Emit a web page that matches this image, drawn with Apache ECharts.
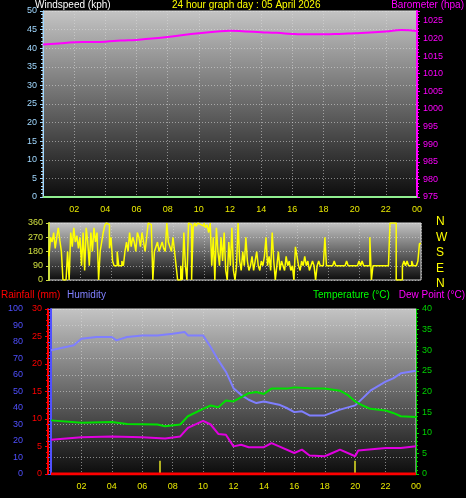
<!DOCTYPE html>
<html><head><meta charset="utf-8">
<script src="https://cdn.jsdelivr.net/npm/echarts@6/dist/echarts.min.js"></script>
<style>html,body{margin:0;background:#000}#c{width:466px;height:498px}</style>
</head><body><div id="c"></div>
<script>
const titleText = "24 hour graph day : 05 April 2026";
const windSpeedTimes = [0, 24];
const windSpeed = [0, 0];
const baroTimes = [0, 1, 2, 3, 4, 5, 6, 7, 8, 9, 10, 11, 12, 13, 14, 15, 16, 16.5, 17, 18, 19, 20, 21, 22, 23, 24];
const baro = [1018.3, 1018.6, 1018.9, 1019.0, 1019.1, 1019.4, 1019.6, 1020.0, 1020.4, 1021.0, 1021.5, 1021.9, 1022.2, 1022.0, 1021.8, 1021.6, 1021.3, 1021.2, 1021.2, 1021.2, 1021.3, 1021.5, 1021.7, 1022.0, 1022.4, 1022.1];
const dirStep = 0.1;
const windDir = [
150,270,240,300,200,270,330,250,180,0,
0,0,180,0,300,210,330,240,280,200,
270,90,300,60,330,240,90,300,180,330,
240,300,0,180,240,300,345,360,350,200,
270,120,90,90,180,90,90,120,90,180,
240,180,300,210,270,240,180,300,270,210,
300,240,180,270,360,350,360,0,180,210,
240,180,210,240,200,180,360,240,210,180,
270,180,90,0,0,90,0,300,90,0,
360,350,0,330,360,340,360,350,360,340,
360,330,350,300,360,90,270,0,330,180,
90,270,120,300,60,0,240,90,330,60,
0,90,360,120,60,180,90,270,120,60,
90,150,60,120,180,90,60,120,90,150,
270,90,150,60,300,120,0,90,180,60,
120,90,60,150,90,120,60,90,0,210,
150,90,60,120,90,150,90,120,60,90,
120,90,0,90,120,90,90,90,270,90,
90,90,90,90,120,90,90,90,90,90,
90,90,120,90,90,90,90,90,90,90,
120,90,120,90,90,90,90,270,0,90,
90,90,90,90,90,90,90,90,90,90,
360,360,360,360,0,0,0,0,90,120,
90,120,90,90,120,90,90,90,120,230,
230];
const humTimes = [0,1.5,2,3,4,4.3,5,6,7,8,8.8,9,10,10.5,11,11.5,12,12.5,13,13.5,14,15,15.5,16,16.5,17,18,19,20,20.5,21,22,22.5,23,24];
const humidity = [75,78,82,83,83,81,83,84,84,85,86,84,84,77,69,62,52,48,45,43,44,42,40,37.5,38,35.5,35.5,39,41.6,46,50.5,56,58,61,62.6];
const tempTimes = [0,2,4,5,7,7.5,8.5,9,10,10.5,11,11.5,12,13,13.5,14,14.5,15.5,16,17,18,19,19.5,20,20.5,21,22,22.5,23,24];
const temperature = [13,12.4,12.6,12.1,12,11.6,12,14,15.8,16.6,16.2,17.8,17.6,19.6,19.9,19.4,20.7,20.7,21,20.8,20.7,20.2,19.2,17.6,16.6,15.8,15.4,14.8,14,13.8];
const dewTimes = [0,2,4,6,7.5,8.5,9,10,10.5,11,11.5,12,12.5,13,14,14.5,15,16,16.5,17,18,18.5,19,20,20.2,22,23,24];
const dewPoint = [8.3,8.9,9.1,8.9,8.6,9.1,11.2,12.9,12,9.7,9.5,6.7,7.1,6.5,6.5,7.5,6.7,5.1,5.9,4.5,4.3,5.1,5.9,4.3,5.7,6.3,6.3,6.7];
const rainTimes = [0, 24];
const rainfall = [0, 0];
const eventTimes = [7.15, 20.0];
const eventHeight = 2.4;
const dirLabels = ["N","W","S","E","N"];

const pairs = (t, v) => t.map((x, i) => [x, v[i]]);
const dirData = windDir.map((v, i) => [+(i * dirStep).toFixed(2), v]);
const F = 'Liberation Sans, Arial, sans-serif';
const bg = {type:'linear',x:0,y:0,x2:0,y2:1,colorStops:[{offset:0,color:'#c4c4c4'},{offset:1,color:'#0c0c0c'}]};
const gridCommon = {show:true, backgroundColor:bg, borderColor:'#d8d8d8', borderWidth:1};
const split = {show:true, lineStyle:{color:'rgba(220,220,220,0.55)', type:[1,2], width:1}};
function xAx(idx, showLabels){
  return {type:'value', gridIndex:idx, min:0, max:24, interval:2,
    axisLine:{show:false}, axisTick:{show:false}, splitLine:split,
    axisLabel:{show:showLabels, color:'#e8e800', fontSize:9, fontFamily:F, showMinLabel:false,
      formatter:v=>String(v%24).padStart(2,'0')}};
}
function yAx(idx, o){
  return Object.assign({type:'value', gridIndex:idx, splitLine:{show:false},
    axisLine:{show:true, lineStyle:{color:o.color, width:o.lw||1}},
    axisTick:{show:true, length:3, lineStyle:{color:o.color}},
    minorTick:{show:true, splitNumber:5, length:2, lineStyle:{color:o.color}},
    axisLabel:{color:o.color, fontSize:9, fontFamily:F, margin:o.margin||6, formatter:o.fmt}}, o.extra||{});
}
const ts = c => ({color:c, fontSize:10, fontWeight:'normal', fontFamily:F});
const chart = echarts.init(document.getElementById('c'));
chart.setOption({
  backgroundColor:'#000', animation:false,
  title:[
    {text:'Windspeed (kph)', left:35, top:0, padding:0, textStyle:ts('#fff')},
    {text:titleText, left:172, top:0, padding:0, textStyle:ts('#ffff00')},
    {text:'Barometer (hpa)', right:2, top:0, padding:0, textStyle:ts('#ff00ff')},
    {text:'Rainfall (mm)', left:1, top:290, padding:0, textStyle:ts('#ff0000')},
    {text:'Humidity', left:67, top:290, padding:0, textStyle:ts('#8080ff')},
    {text:'Temperature (°C)', left:313, top:290, padding:0, textStyle:ts('#00ff00')},
    {text:'Dew Point (°C)', right:1, top:290, padding:0, textStyle:ts('#ff00ff')}
  ].concat(dirLabels.map((s,i)=>({text:s, left:436, top:216+i*15.5, padding:0, textStyle:{color:'#ffff00', fontSize:12, fontWeight:'normal', fontFamily:F}}))),
  grid:[
    Object.assign({left:43, right:49, top:11, height:186}, gridCommon),
    Object.assign({left:49, right:45, top:223, height:57}, gridCommon),
    Object.assign({left:51, right:50, top:309, height:165}, gridCommon)
  ],
  xAxis:[xAx(0,true), xAx(1,false), xAx(2,true)],
  yAxis:[
    yAx(0,{color:'#a0d8ff', lw:1, extra:{position:'left', min:0,max:50,interval:5, splitLine:split}}),
    yAx(0,{color:'#ff00ff', lw:2, fmt:v=>(v%5===0?v:''), extra:{position:'right', min:975, max:1027.8, interval:5}}),
    yAx(1,{color:'#d0e040', lw:2, extra:{position:'left', min:0,max:360,interval:90, splitLine:split, minorTick:{show:false}}}),
    yAx(2,{color:'#5050ff', lw:2, extra:{position:'left', min:0,max:100,interval:10, offset:22, splitLine:split}}),
    yAx(2,{color:'#ff0000', lw:2, extra:{position:'left', min:0,max:30,interval:5, offset:3}}),
    yAx(2,{color:'#00d000', lw:1, extra:{position:'right', min:0,max:40,interval:5}})
  ],
  series:[
    {type:'line', xAxisIndex:0, yAxisIndex:0, data:pairs(windSpeedTimes, windSpeed), symbol:'none', lineStyle:{color:'#90ee90', width:2}, z:5},
    {type:'line', xAxisIndex:0, yAxisIndex:1, data:pairs(baroTimes, baro), smooth:true, symbol:'none', lineStyle:{color:'#ff00ff', width:2}},
    {type:'line', xAxisIndex:1, yAxisIndex:2, data:dirData, step:'end', symbol:'none', lineStyle:{color:'#ffff00', width:1.5}},
    {type:'line', xAxisIndex:2, yAxisIndex:3, data:pairs(humTimes, humidity), symbol:'none', lineStyle:{color:'#7f7fff', width:2}},
    {type:'line', xAxisIndex:2, yAxisIndex:5, data:pairs(tempTimes, temperature), symbol:'none', lineStyle:{color:'#00e000', width:2}},
    {type:'line', xAxisIndex:2, yAxisIndex:5, data:pairs(dewTimes, dewPoint), symbol:'none', lineStyle:{color:'#e000e0', width:2}},
    {type:'line', xAxisIndex:2, yAxisIndex:4, data:pairs(rainTimes, rainfall), symbol:'none', lineStyle:{color:'#ff0000', width:3}, z:6,
      markLine:{symbol:'none', silent:true, label:{show:false}, lineStyle:{color:'#b0b020', width:2, type:'solid'},
        data:eventTimes.map(t=>[{coord:[t,0]},{coord:[t,eventHeight]}])}}
  ]
});
</script></body></html>
